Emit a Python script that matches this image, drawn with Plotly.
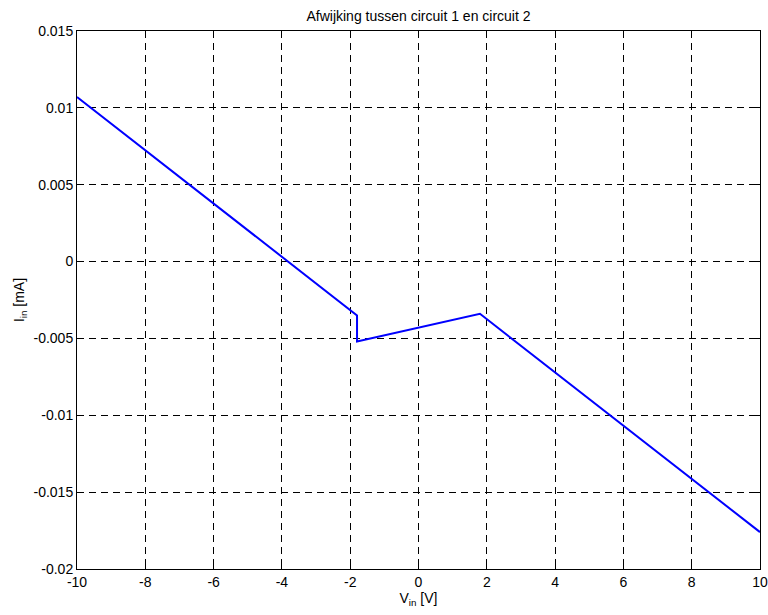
import plotly.graph_objects as go

v_in = [-10, -1.8, -1.8, 1.8, 10]
i_in = [0.0107, -0.0035, -0.0052, -0.0034, -0.0176]

x_ticks = [-10, -8, -6, -4, -2, 0, 2, 4, 6, 8, 10]
y_ticks = [0.015, 0.01, 0.005, 0, -0.005, -0.01, -0.015, -0.02]
y_labels = ["0.015", "0.01", "0.005", "0", "-0.005", "-0.01", "-0.015", "-0.02"]
x_labels = [str(t) for t in x_ticks]

FS = 14
W, H = 768, 615
L, R, T, B = 77, 8, 31, 46

fig = go.Figure()
fig.add_trace(go.Scatter(x=v_in, y=i_in, mode="lines",
                         line=dict(color="#0000ff", width=2), showlegend=False,
                         hoverinfo="skip"))

axis_common = dict(
    showline=True, linecolor="black", linewidth=1, mirror="ticks",
    ticks="inside", ticklen=5, tickcolor="black",
    showgrid=True, gridcolor="black", gridwidth=1, griddash="7px,5px",
    zeroline=False, tickfont=dict(size=FS, color="black"),
    automargin=False, ticklabeloverflow="allow",
)

fig.update_layout(
    width=W, height=H,
    margin=dict(l=L, r=R, t=T, b=B),
    paper_bgcolor="white", plot_bgcolor="white",
    font=dict(family="Liberation Sans, Arial, Helvetica, sans-serif", size=FS, color="black"),
    title=dict(text="Afwijking tussen circuit 1 en circuit 2",
               x=(L + (W - R)) / 2 / W, xanchor="center",
               y=1 - 16 / H, yanchor="middle", font=dict(size=FS)),
    xaxis=dict(range=[-10, 10], tickvals=x_ticks, ticktext=x_labels,
               title=dict(text="V<sub>in</sub> [V]", standoff=1, font=dict(size=FS)),
               **axis_common),
    yaxis=dict(range=[-0.02, 0.015], tickvals=y_ticks, ticktext=y_labels,
               title=dict(text="I<sub>in</sub> [mA]", standoff=5, font=dict(size=FS)),
               **axis_common),
)

fig.write_html(
    "out.html",
    config={"displayModeBar": False},
    post_script="document.body.style.margin='0';"
                "document.documentElement.style.overflow='hidden';"
                "document.body.style.overflow='hidden';",
)
